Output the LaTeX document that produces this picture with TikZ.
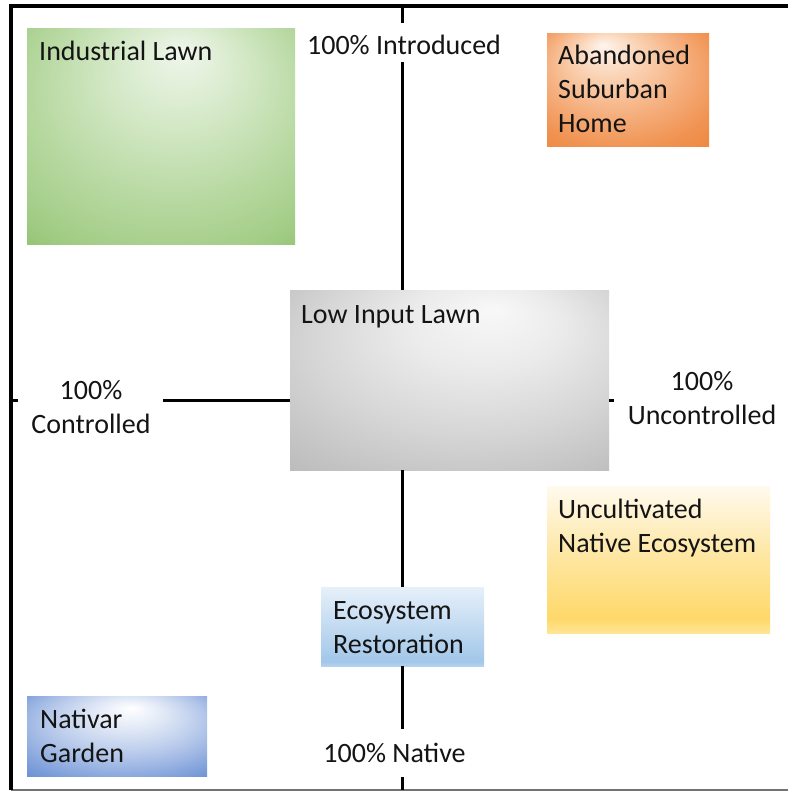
\documentclass[tikz,border=0pt]{standalone}
\usepackage{fontspec}
\setmainfont{Carlito}
\usetikzlibrary{calc}
\definecolor{grA}{HTML}{EFF6EB}\definecolor{grB}{HTML}{D5E9C8}\definecolor{grC}{HTML}{B8D9A2}\definecolor{grD}{HTML}{A3CD87}\definecolor{grE}{HTML}{72AE49}
\definecolor{orA}{HTML}{FEF4EC}\definecolor{orB}{HTML}{FAD3B5}\definecolor{orC}{HTML}{F5AE7C}\definecolor{orD}{HTML}{F09352}\definecolor{orE}{HTML}{ED7D31}
\definecolor{gyA}{HTML}{F8F8F8}\definecolor{gyB}{HTML}{EBEBEB}\definecolor{gyC}{HTML}{D6D6D6}\definecolor{gyD}{HTML}{C4C4C4}\definecolor{gyE}{HTML}{A8A8A8}
\definecolor{blA}{HTML}{FFFFFF}\definecolor{blB}{HTML}{E0E8F6}\definecolor{blC}{HTML}{B4C7EA}\definecolor{blD}{HTML}{7E9FDA}\definecolor{blE}{HTML}{4472C4}
\definecolor{ebA}{HTML}{B4D2EE}\definecolor{ebB}{HTML}{A2C7E9}\definecolor{ebC}{HTML}{E6F0FA}
\definecolor{ylA}{HTML}{FFE596}\definecolor{ylB}{HTML}{FED86A}\definecolor{ylC}{HTML}{FEE7A4}\definecolor{ylD}{HTML}{FFFAEE}
% TikZ maps the central 50bp x 50bp of a shading onto the path
\pgfdeclareradialshading{greenrad}{\pgfpoint{4bp}{20bp}}{color(0bp)=(grA); color(12bp)=(grB); color(25bp)=(grC); color(35bp)=(grD); color(52bp)=(grE)}
\pgfdeclareradialshading{orangerad}{\pgfpoint{-8bp}{20bp}}{color(0bp)=(orA); color(10bp)=(orB); color(22bp)=(orC); color(32bp)=(orD); color(45bp)=(orE)}
\pgfdeclareradialshading{grayrad}{\pgfpoint{7bp}{20bp}}{color(0bp)=(gyA); color(12bp)=(gyB); color(25bp)=(gyC); color(35bp)=(gyD); color(52bp)=(gyE)}
\pgfdeclareradialshading{bluerad}{\pgfpoint{4bp}{18bp}}{color(0bp)=(blA); color(10bp)=(blB); color(22bp)=(blC); color(34bp)=(blD); color(48bp)=(blE)}
\pgfdeclareverticalshading{ecoshade}{100bp}{color(0bp)=(ebA); color(25bp)=(ebA); color(28bp)=(ebB); color(75bp)=(ebC); color(100bp)=(ebC)}
\pgfdeclareverticalshading{yelshade}{100bp}{color(0bp)=(ylA); color(25bp)=(ylA); color(30bp)=(ylB); color(52bp)=(ylC); color(75bp)=(ylD); color(100bp)=(ylD)}
\begin{document}
\begin{tikzpicture}[x=1pt,y=-1pt,
  every node/.style={font=\fontsize{28}{34}\selectfont, text=black!92},
  boxn/.style={draw=none, inner sep=0pt, anchor=north west},
  txt/.style={inner sep=0pt, anchor=base west, align=left},
  lbl/.style={inner sep=0pt, anchor=base, align=center},
  axis/.style={line width=3pt, black},
  frame/.style={line width=3.5pt, black}]
\useasboundingbox (0,0) rectangle (788,792);
\fill[white] (0,0) rectangle (788,792);
% frame
\coordinate (ftl) at (11,6);
\coordinate (ftr) at (788,6);
\coordinate (fbl) at (11,790);
\coordinate (fbr) at (788,790);
\draw[line width=2pt, black!55] (fbl) -- (fbr);
\draw[frame] (fbl) -- (ftl) -- (ftr);
% boxes
\node[boxn, shading=greenrad, minimum width=268pt, minimum height=216pt] (indl) at (27,28) {};
\node[boxn, shading=orangerad, minimum width=162pt, minimum height=113pt] (aband) at (547,33) {};
\node[boxn, shading=yelshade, minimum width=223pt, minimum height=147pt] (uncult) at (547,486) {};
\node[boxn, shading=ecoshade, minimum width=163pt, minimum height=79pt] (ecor) at (321,587) {};
\node[boxn, shading=bluerad, minimum width=180pt, minimum height=80pt] (nativ) at (27,696) {};
% axes
\coordinate (vtop) at (402.5,6);
\coordinate (vbot) at (402.5,790);
\coordinate (gi1) at (402.5,23);
\coordinate (gi2) at (402.5,62);
\coordinate (gn1) at (402.5,729);
\coordinate (gn2) at (402.5,777);
\coordinate (hl) at (11,400);
\coordinate (gc1) at (18,400);
\coordinate (gc2) at (163,400);
\coordinate (gu) at (614,400);
\node[boxn, shading=grayrad, minimum width=319pt, minimum height=180pt] (low) at (290,290) {};
\draw[axis] (vtop) -- (gi1);
\draw[axis] (gi2) -- (vtop |- low.north);
\draw[axis] (vtop |- low.south) -- (vtop |- ecor.north);
\draw[axis] (vtop |- ecor.south) -- (gn1);
\draw[axis] (gn2) -- (vbot);
\draw[axis] (hl) -- (gc1);
\draw[axis] (gc2) -- (hl -| low.west);
\draw[axis] (hl -| low.east) -- (gu);
% texts (base anchor = baseline of last line)
\node[txt] (t-indl) at (39,60) {Industrial Lawn};
\node[txt] (t-aband) at (558,132) {Abandoned\\Suburban\\Home};
\node[txt] (t-low) at (301,323) {Low Input Lawn};
\node[txt] (t-uncult) at (558,552) {Uncultivated\\Native Ecosystem};
\node[txt] (t-ecor) at (333,653) {Ecosystem\\Restoration};
\node[txt] (t-nativ) at (40,762) {Nativar\\Garden};
\node[lbl] (intro) at (404,55) {100\% Introduced};
\node[lbl] (ctrl) at (91,433) {100\%\\Controlled};
\node[lbl] (unctrl) at (702,424) {100\%\\Uncontrolled};
\node[lbl] (native) at (394.5,762) {100\% Native};
\end{tikzpicture}
\end{document}
